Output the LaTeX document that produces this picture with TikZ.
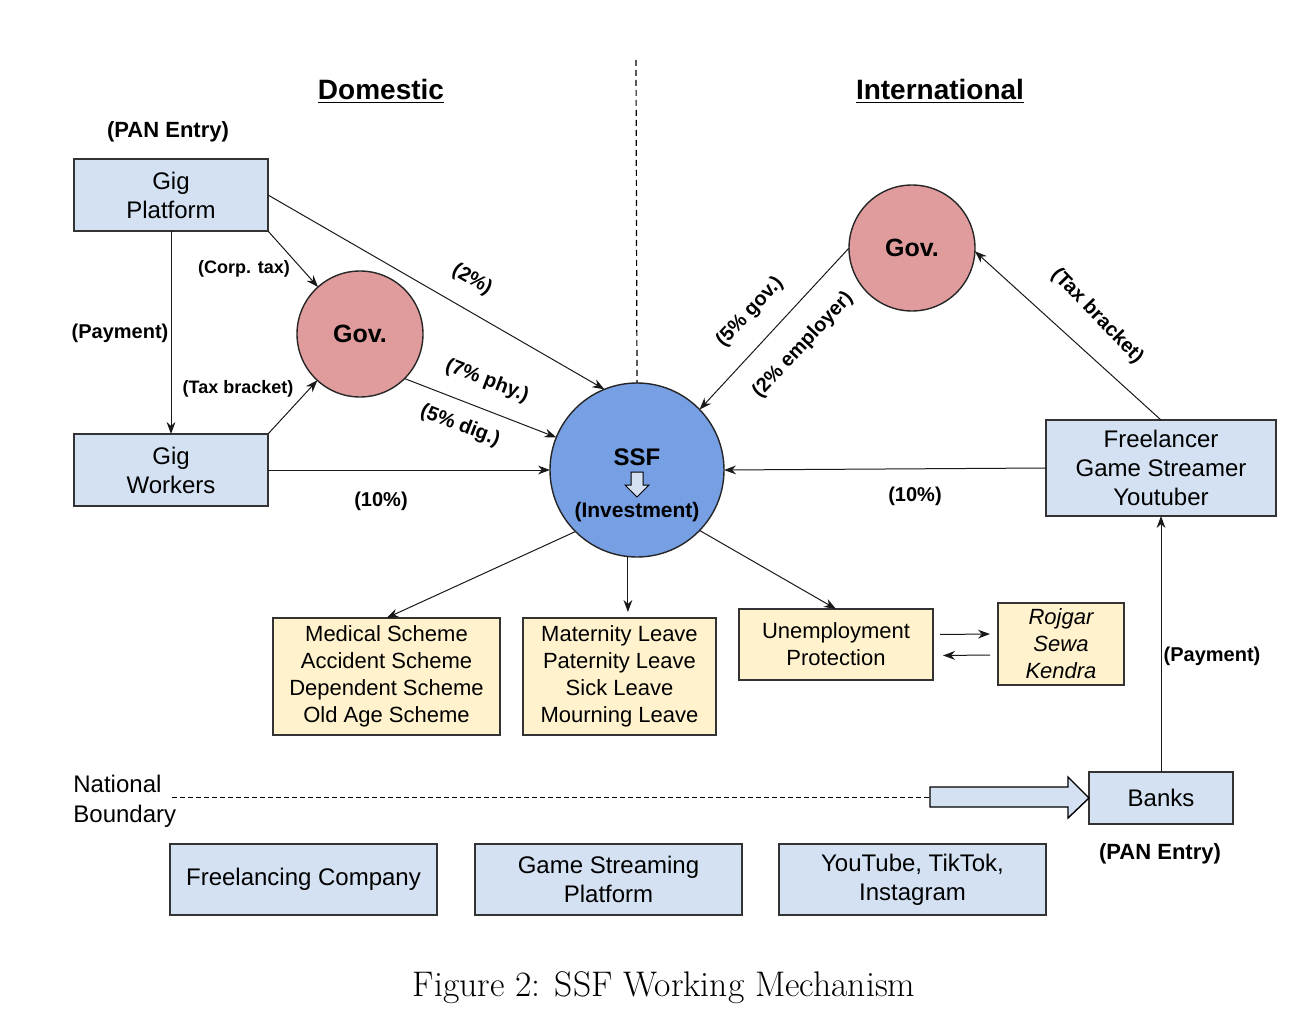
\documentclass[tikz,border=0pt]{standalone}
\usepackage{fontspec}
\newfontfamily\arial{Liberation Sans}
\usetikzlibrary{arrows.meta,calc}
\definecolor{boxblue}{HTML}{D3E1F2}
\definecolor{boxyellow}{HTML}{FFF2CC}
\definecolor{govred}{HTML}{E09C9C}
\definecolor{ssfblue}{HTML}{769FE4}
\begin{document}
\begin{tikzpicture}[x=0.5pt,y=-0.5pt,
  box/.style={draw=black!80, line width=0.8pt, fill=boxblue, inner sep=0pt, outer sep=0pt, align=center, font=\arial\fontsize{12}{14.5}\selectfont},
  ybox/.style={box, fill=boxyellow, font=\arial\fontsize{11}{13.5}\selectfont},
  circ/.style={circle, draw=black!85, line width=0.7pt, inner sep=0pt, outer sep=0pt, minimum size=63pt, align=center, font=\arial\bfseries\fontsize{12.5}{14}\selectfont},
  arr/.style={-{Stealth[length=6pt,width=4.4pt]}, line width=0.5pt, draw=black!90},
  lab/.style={font=\arial\bfseries\fontsize{10}{12}\selectfont, inner sep=1pt},
  slab/.style={lab, font=\arial\bfseries\fontsize{9}{11}\selectfont},
  head/.style={font=\arial\bfseries\fontsize{14}{16}\selectfont, inner sep=1pt}
]
\fill[white] (0,0) rectangle (1312,1032);
\useasboundingbox (0,0) rectangle (1312,1032);

% headings
\node[head] (dom) at (381,91) {\underline{Domestic}};
\node[head] (int) at (940,91) {\underline{International}};
\node[lab, font=\arial\bfseries\fontsize{11}{13}\selectfont] (pan1) at (168,132) {(PAN Entry)};

% nodes
\node[box, minimum width=97pt, minimum height=36pt] (gp) at (171,195) {Gig\\Platform};
\node[box, minimum width=97pt, minimum height=36pt] (gw) at (171,470) {Gig\\Workers};
\node[circ, fill=govred] (govL) at (360,334) {Gov.};
\node[circ, fill=ssfblue, minimum size=87pt] (ssf) at (637,470) {};
\node[font=\arial\bfseries\fontsize{12}{14}\selectfont, inner sep=0pt] (ssft) at (637,457) {SSF};
\node[font=\arial\bfseries\fontsize{10.5}{12}\selectfont, inner sep=0pt] (inv) at (637,512) {(Investment)};
\draw[fill=boxblue, line width=0.5pt] (631,472) -- (643,472) -- (643,485) -- (649,485) -- (637,497) -- (625,485) -- (631,485) -- cycle;
\node[circ, fill=govred] (govR) at (912,248) {Gov.};
\node[box, minimum width=115pt, minimum height=48pt] (fr) at (1161,468) {Freelancer\\Game Streamer\\Youtuber};
\node[box, minimum width=72pt, minimum height=26pt] (bk) at (1161,798) {Banks};
\node[lab, font=\arial\bfseries\fontsize{11}{13}\selectfont] (pan2) at (1160,854) {(PAN Entry)};

\node[ybox, minimum width=113.5pt, minimum height=58.5pt] (med) at (386.5,676.5) {Medical Scheme\\Accident Scheme\\Dependent Scheme\\Old Age Scheme};
\node[ybox, minimum width=96.5pt, minimum height=58.5pt] (mat) at (619.5,676.5) {Maternity Leave\\Paternity Leave\\Sick Leave\\Mourning Leave};
\node[ybox, minimum width=97pt, minimum height=35.5pt] (un) at (836,644.5) {Unemployment\\Protection};
\node[ybox, minimum width=63pt, minimum height=41pt, font=\arial\itshape\fontsize{11}{13.5}\selectfont] (rj) at (1061,644) {Rojgar\\Sewa\\Kendra};

\node[box, minimum width=133.5pt, minimum height=35.5pt] (fc) at (303.5,879.5) {Freelancing Company};
\node[box, minimum width=133.5pt, minimum height=35.5pt] (gs) at (608.5,879.5) {Game Streaming\\Platform};
\node[box, minimum width=133.5pt, minimum height=35.5pt] (yt) at (912.5,879.5) {YouTube, TikTok,\\Instagram};

% national boundary
\node[anchor=west, align=left, inner sep=0pt, font=\arial\fontsize{12}{15}\selectfont] (nb) at (73,801) {National\\Boundary};
\coordinate (nbl) at (172,797);
\coordinate (nbr) at (930,797);
\draw[dash pattern=on 2.5pt off 1.5pt, line width=0.5pt] (nbl) -- (nbr);
\draw[fill=boxblue, line width=0.7pt] (nbr) ++(0,-10) -- (1068,787) -- (1068,777) -- (bk.west) -- (1068,818) -- (1068,807) -- (930,807) -- cycle;

% vertical divider
\coordinate (vtop) at (636,60);
\draw[dash pattern=on 3pt off 2pt, line width=0.6pt] (vtop) -- (ssf.north);

% connectors left
\draw[arr] (gp.south) -- (gw.north);
\node[lab] (lpay) at (120,333) {(Payment)};
\draw[arr] (gp.south east) -- (govL);
\node[slab] (lcorp) at (244,269) {(Corp. tax)};
\draw[arr] (gw.north east) -- (govL);
\node[slab] (ltax) at (238,389) {(Tax bracket)};
\draw[arr] (gp.east) -- (ssf.112);
\node[lab, rotate=-30] (l2) at (472,280) {(2\%)};
\draw[arr] (govL.-45) -- (ssf.158);
\node[lab, rotate=-21] (l7) at (487,381) {(7\% phy.)};
\node[lab, rotate=-21] (l5) at (460,426) {(5\% dig.)};
\draw[arr] (gw.east) -- (ssf.west);
\node[lab] (l10a) at (381,501) {(10\%)};

% connectors right
\draw[arr] (govR.west) -- (ssf.44);
\node[lab, rotate=47] (l5g) at (750,312) {(5\% gov.)};
\node[lab, rotate=47] (l2e) at (803,345) {(2\% employer)};
\draw[arr] (fr.north) -- (govR.-3);
\node[lab, rotate=-46] (ltb) at (1097,316) {(Tax bracket)};
\draw[arr] (fr.west) -- (ssf.east);
\node[lab] (l10b) at (915,496) {(10\%)};
\draw[arr] (bk.north) -- (fr.south);
\node[lab] (lpay2) at (1212,656) {(Payment)};

% outputs
\draw[arr] (ssf.225) -- (med.north);
\draw[arr] (ssf.264) -- ($(ssf.264 |- mat.north)+(0,-6)$);
\draw[arr] (ssf.-44) -- (un.north);
\draw[arr] ([xshift=3.5pt,yshift=5pt]un.east) -- ([xshift=-4pt,yshift=5pt]rj.west);
\draw[arr] ([xshift=-4pt,yshift=-5.5pt]rj.west) -- ([xshift=5pt,yshift=-5.5pt]un.east);

% caption
\node[font=\fontsize{17.8}{21}\selectfont, inner sep=0pt] (cap) at (664,988) {Figure 2: SSF Working Mechanism};
\end{tikzpicture}
\end{document}
